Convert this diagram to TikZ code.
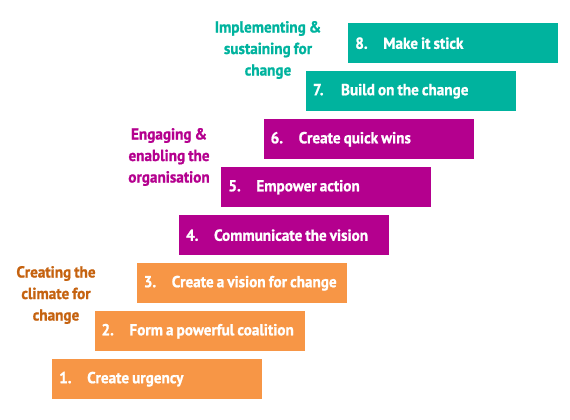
\documentclass[tikz,border=0pt]{standalone}
\usepackage{fontspec}
\setmainfont{PT Sans}[WordSpace=0.8, FakeStretch=0.95, BoldFeatures={FakeBold=1}]
\usepackage{xcolor}
\usetikzlibrary{positioning}

\definecolor{steporange}{HTML}{F79646}
\definecolor{stepmagenta}{HTML}{B4008E}
\definecolor{stepteal}{HTML}{00B39E}
\definecolor{phaseorange}{HTML}{C5620F}

\newcommand{\steptext}[2]{\raisebox{-3pt}{\makebox[196pt][l]{\makebox[28pt][l]{#1}#2}}}

\begin{document}
\begin{tikzpicture}[
    x=1pt, y=-1pt,
    stepbar/.style={rectangle, anchor=north west, minimum width=210pt, minimum height=40pt,
        inner xsep=7pt, text=white,
        font=\fontsize{16}{19}\selectfont\bfseries},
    phase/.style={align=center, font=\fontsize{16}{21.5}\selectfont\bfseries}
]
    \useasboundingbox (0,0) rectangle (570,420);

    % the eight steps
    \node[stepbar, fill=steporange] (s1) at (52, 359) {\steptext{1.}{Create urgency}};
    \node[stepbar, fill=steporange] (s2) at (94.3, 311) {\steptext{2.}{Form a powerful coalition}};
    \node[stepbar, fill=steporange] (s3) at (136.6, 263) {\steptext{3.}{Create a vision for change}};
    \node[stepbar, fill=stepmagenta] (s4) at (178.9, 215) {\steptext{4.}{Communicate the vision}};
    \node[stepbar, fill=stepmagenta] (s5) at (221.2, 167) {\steptext{5.}{Empower action}};
    \node[stepbar, fill=stepmagenta] (s6) at (263.5, 119) {\steptext{6.}{Create quick wins}};
    \node[stepbar, fill=stepteal] (s7) at (305.8, 71) {\steptext{7.}{Build on the change}};
    \node[stepbar, fill=stepteal] (s8) at (348.1, 23) {\steptext{8.}{Make it stick}};

    % phase labels
    \node[phase, text=phaseorange] (climate) at (56, 295) {Creating the\\climate for\\change};
    \node[phase, text=stepmagenta] (engage) at (169, 157) {Engaging \&\\enabling the\\organisation};
    \node[phase, text=stepteal] (sustain) at (268, 50) {Implementing \&\\sustaining for\\change};
\end{tikzpicture}
\end{document}
